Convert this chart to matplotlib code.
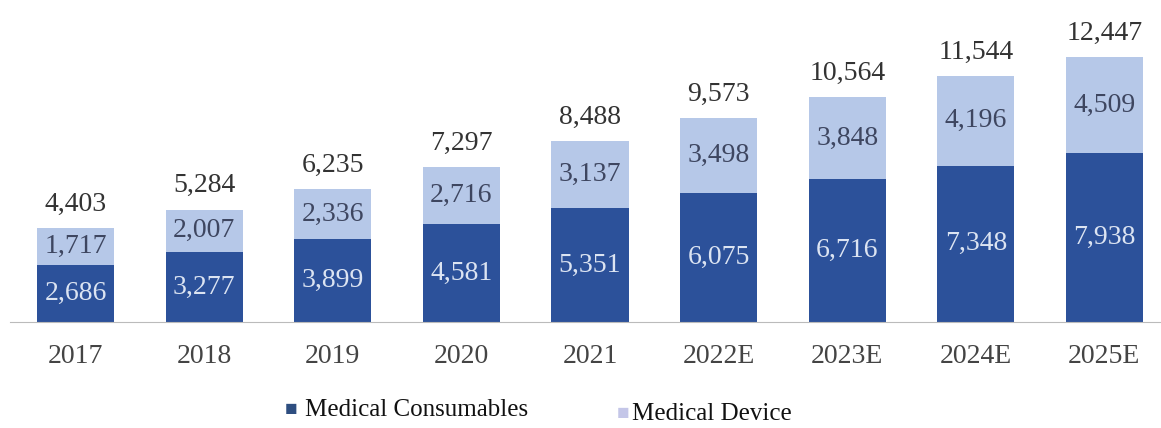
import numpy as np
import matplotlib.pyplot as plt

years = ["2017", "2018", "2019", "2020", "2021", "2022E", "2023E", "2024E", "2025E"]
consumables = [2686, 3277, 3899, 4581, 5351, 6075, 6716, 7348, 7938]
devices = [1717, 2007, 2336, 2716, 3137, 3498, 3848, 4196, 4509]
totals = [4403, 5284, 6235, 7297, 8488, 9573, 10564, 11544, 12447]

dark = "#2C519A"
light = "#B6C8E8"

plt.rcParams["font.family"] = ["Liberation Serif", "DejaVu Serif"]

fig = plt.figure(figsize=(11.61, 4.28), dpi=100)
ax = fig.add_axes([10 / 1161, (428 - 322) / 428, 1 - 10 / 1161, 322 / 428])

x = np.arange(len(years))
w = 0.6
ax.bar(x, consumables, w, color=dark, label="Medical Consumables")
ax.bar(x, devices, w, bottom=consumables, color=light, label="Medical Device")

fs = 20
for i in range(len(years)):
    ax.text(x[i], consumables[i] / 2, f"{consumables[i]:,}", ha="center", va="center",
            color="#DCE4F2", fontsize=fs)
    ax.text(x[i], consumables[i] + devices[i] / 2, f"{devices[i]:,}", ha="center", va="center",
            color="#3E4660", fontsize=fs)
    ax.annotate(f"{totals[i]:,}", (x[i], consumables[i] + devices[i]), xytext=(0, 8),
                textcoords="offset points", ha="center", va="bottom", color="#333333", fontsize=fs)

ax.set_xlim(-0.51, 8.44)
ax.set_ylim(0, 15124)
ax.set_xticks(x)
ax.set_xticklabels(years, fontsize=fs, color="#444444")
ax.tick_params(axis="x", length=0, pad=16)
ax.set_yticks([])
for s in ["top", "right", "left"]:
    ax.spines[s].set_visible(False)
ax.spines["bottom"].set_color("#BBBBBB")

# legend drawn as two separate entries, like the original
fig.text(291 / 1161, 1 - 410 / 428, "\u25a0", color="#2E4E80", fontsize=15, ha="center", va="center")
fig.text(305 / 1161, 1 - 410 / 428, "Medical Consumables", fontsize=18, va="center", color="#111111")
fig.text(623 / 1161, 1 - 415 / 428, "\u25a0", color="#C4C6E8", fontsize=15, ha="center", va="center")
fig.text(632 / 1161, 1 - 414 / 428, "Medical Device", fontsize=18, va="center", color="#111111")

fig.savefig("out.png", dpi=100)
